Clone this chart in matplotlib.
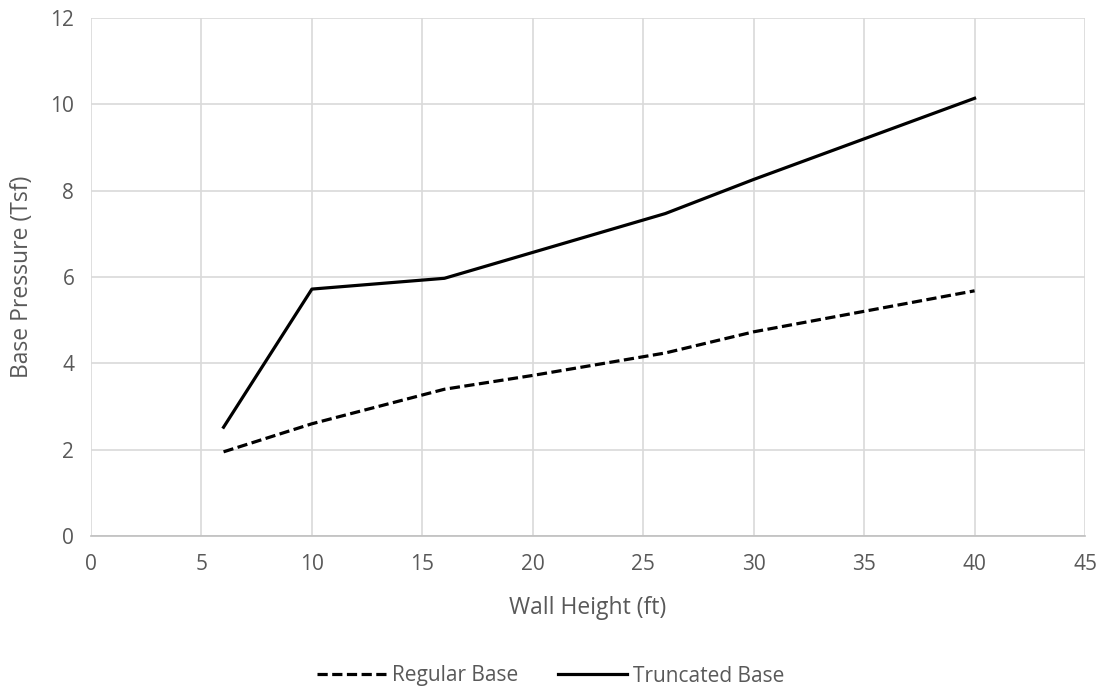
import matplotlib
matplotlib.use('Agg')
from matplotlib import pyplot as plt

# wall height (ft) and base pressure (Tsf)
wall_height = [6, 10, 16, 20, 26, 30, 40]
regular_base = [1.95, 2.60, 3.40, 3.72, 4.24, 4.73, 5.68]
truncated_base = [2.52, 5.72, 5.97, 6.57, 7.47, 8.26, 10.14]

x_ticks = [0, 5, 10, 15, 20, 25, 30, 35, 40, 45]
y_ticks = [0, 2, 4, 6, 8, 10, 12]

plt.rcParams['font.family'] = ['Open Sans', 'DejaVu Sans']
grey_text = '#595959'

fig = plt.figure(figsize=(11.02, 6.87), dpi=100)
ax = fig.add_axes([0.0826, 0.2198, 0.902, 0.754])

ax.plot(wall_height, regular_base, color='black', lw=2.3,
        ls=(0, (3.2, 1.4)), label='Regular Base')
ax.plot(wall_height, truncated_base, color='black', lw=2.3,
        label='Truncated Base')

ax.set_xlim(0, 45)
ax.set_ylim(0, 12)
ax.set_xticks(x_ticks)
ax.set_yticks(y_ticks)
ax.grid(True, color='#d9d9d9', lw=1.2)
ax.set_axisbelow(True)

for side in ['top', 'right', 'left']:
    ax.spines[side].set_visible(False)
ax.spines['bottom'].set_color('#bfbfbf')
ax.spines['bottom'].set_linewidth(1.2)

ax.tick_params(axis='both', length=0, labelsize=15, labelcolor=grey_text)
ax.tick_params(axis='x', pad=13)
ax.tick_params(axis='y', pad=12)

ax.set_xlabel('Wall Height (ft)', fontsize=16.5, color=grey_text, va='center')
ax.set_ylabel('Base Pressure (Tsf)', fontsize=16.5, color=grey_text, va='center')
ax.xaxis.set_label_coords(0.5, -72 / 518)
ax.yaxis.set_label_coords(-69 / 994, 0.5)

fig.legend(loc='center', bbox_to_anchor=(0.5, 1 - 676 / 687), ncol=2,
           frameon=False, fontsize=15, handlelength=3.3,
           columnspacing=1.9, handletextpad=0.3, labelcolor=grey_text)

plt.savefig('out.png', dpi=100)
